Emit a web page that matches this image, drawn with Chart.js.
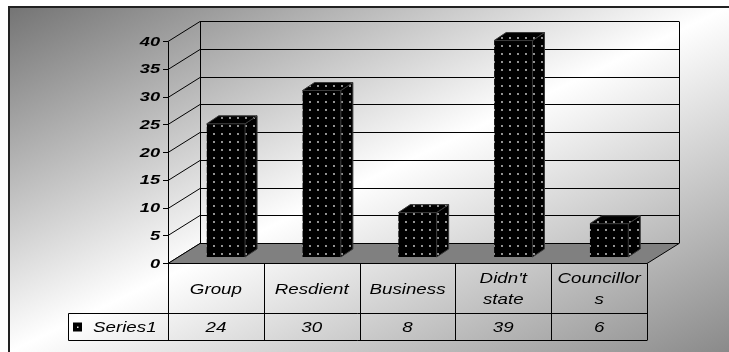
<!DOCTYPE html>
<html>
<head>
<meta charset="utf-8">
<script src="https://cdn.jsdelivr.net/npm/chart.js@4/dist/chart.umd.min.js"></script>
<style>
  html, body { margin: 0; padding: 0; background: #fff; }
</style>
</head>
<body>
<canvas id="chart" width="729" height="352"></canvas>
<script>
// data
const categories = ['Group', 'Resdient', 'Business', "Didn't state", 'Councillors'];
const seriesName = 'Series1';
const values = [24, 30, 8, 39, 6];
const yMin = 0, yMax = 40, yStep = 5;

const FONT = '"Liberation Sans", Arial, sans-serif';
const WALL_DX = 32, WALL_DY = 20;   // depth of the back wall
const BAR_OX = 10, BAR_OY = 6;      // bars sit a bit back from the front plane
const BAR_DX = 12, BAR_DY = 8;      // bar depth
const STRETCH = 1.25;               // text looks wide in the original

// black with small light dots
function dotPattern() {
  const c = document.createElement('canvas');
  c.width = 8; c.height = 8;
  const g = c.getContext('2d');
  g.fillStyle = '#000';
  g.fillRect(0, 0, 8, 8);
  g.fillStyle = '#d8d8d8';
  g.beginPath();
  g.arc(4, 4, 0.9, 0, Math.PI * 2);
  g.fill();
  return g.createPattern(c, 'repeat');
}
const pattern = dotPattern();

function wideText(ctx, txt, x, y, align, sx) {
  ctx.save();
  ctx.translate(x, y);
  ctx.scale(sx, 1);
  ctx.textAlign = align;
  ctx.fillText(txt, 0, 0);
  ctx.restore();
}

function wrapLines(ctx, txt, maxW, sx) {
  const w = s => ctx.measureText(s).width * sx;
  const lines = [];
  let cur = '';
  txt.split(' ').forEach(word => {
    const test = cur ? cur + ' ' + word : word;
    if (w(test) <= maxW) { cur = test; return; }
    if (cur) lines.push(cur);
    cur = '';
    // break long words by character
    for (const ch of word) {
      if (w(cur + ch) > maxW && cur) { lines.push(cur); cur = ch; }
      else cur += ch;
    }
  });
  if (cur) lines.push(cur);
  return lines;
}

const threeD = {
  id: 'threeD',
  beforeDraw(chart) {
    const ctx = chart.ctx;
    ctx.save();
    ctx.fillStyle = '#fff';
    ctx.fillRect(0, 0, chart.width, chart.height);
    const x0 = 9, y0 = 7;
    const grad = ctx.createLinearGradient(x0, y0, x0 + 269, y0 + 561);
    grad.addColorStop(0, '#747474');
    grad.addColorStop(0.5, '#ffffff');
    grad.addColorStop(1, '#8a8a8a');
    ctx.fillStyle = grad;
    ctx.fillRect(x0, y0, chart.width, chart.height);
    ctx.strokeStyle = '#222';
    ctx.lineWidth = 2;
    ctx.strokeRect(x0, y0, chart.width + 10, chart.height + 10);
    ctx.restore();
  },
  beforeDatasetsDraw(chart) {
    const ctx = chart.ctx;
    const y = chart.scales.y;
    const a = chart.chartArea;
    ctx.save();
    ctx.strokeStyle = '#000';
    ctx.lineWidth = 1;
    // grid on back wall, side lines, tick marks
    y.ticks.forEach(t => {
      const py = Math.round(y.getPixelForValue(t.value)) + 0.5;
      ctx.beginPath();
      ctx.moveTo(a.left - 5, py);
      ctx.lineTo(a.left, py);
      ctx.lineTo(a.left + WALL_DX, py - WALL_DY);
      ctx.lineTo(a.right + WALL_DX, py - WALL_DY);
      ctx.stroke();
    });
    const top = Math.round(y.getPixelForValue(yMax)) + 0.5;
    const bot = Math.round(y.getPixelForValue(yMin)) + 0.5;
    ctx.beginPath();
    ctx.moveTo(a.left + 0.5, top);
    ctx.lineTo(a.left + 0.5, bot);
    ctx.moveTo(a.left + WALL_DX + 0.5, top - WALL_DY);
    ctx.lineTo(a.left + WALL_DX + 0.5, bot - WALL_DY);
    ctx.moveTo(a.right + WALL_DX + 0.5, top - WALL_DY);
    ctx.lineTo(a.right + WALL_DX + 0.5, bot - WALL_DY);
    ctx.stroke();
    // floor
    ctx.beginPath();
    ctx.moveTo(a.left, bot);
    ctx.lineTo(a.right, bot);
    ctx.lineTo(a.right + WALL_DX, bot - WALL_DY);
    ctx.lineTo(a.left + WALL_DX, bot - WALL_DY);
    ctx.closePath();
    ctx.fillStyle = '#808080';
    ctx.fill();
    ctx.stroke();
    // y labels
    ctx.fillStyle = '#000';
    ctx.font = 'italic bold 13px ' + FONT;
    ctx.textBaseline = 'middle';
    y.ticks.forEach(t => {
      const py = y.getPixelForValue(t.value);
      wideText(ctx, t.label, a.left - 8, py + 1, 'right', 1.4);
    });
    ctx.restore();
    // bars drawn a little behind the front plane
    ctx.save();
    ctx.translate(BAR_OX, -BAR_OY);
  },
  afterDatasetsDraw(chart) {
    const ctx = chart.ctx;
    const meta = chart.getDatasetMeta(0);
    meta.data.forEach(bar => {
      const l = bar.x - bar.width / 2, r = bar.x + bar.width / 2;
      ctx.fillStyle = pattern;
      ctx.strokeStyle = '#3a3a3a';
      ctx.lineWidth = 1;
      // side
      ctx.beginPath();
      ctx.moveTo(r, bar.y);
      ctx.lineTo(r + BAR_DX, bar.y - BAR_DY);
      ctx.lineTo(r + BAR_DX, bar.base - BAR_DY);
      ctx.lineTo(r, bar.base);
      ctx.closePath();
      ctx.fill();
      ctx.stroke();
      // top
      ctx.beginPath();
      ctx.moveTo(l, bar.y);
      ctx.lineTo(l + BAR_DX, bar.y - BAR_DY);
      ctx.lineTo(r + BAR_DX, bar.y - BAR_DY);
      ctx.lineTo(r, bar.y);
      ctx.closePath();
      ctx.fill();
      ctx.stroke();
    });
    ctx.restore();
  },
  afterDraw(chart) {
    const ctx = chart.ctx;
    const a = chart.chartArea;
    const xs = chart.scales.x;
    const y0 = Math.round(a.bottom) + 0.5;
    const y1 = y0 + 50, y2 = y0 + 77;
    const keyL = 68.5;
    const step = (a.right - a.left) / categories.length;
    ctx.save();
    ctx.strokeStyle = '#000';
    ctx.lineWidth = 1;
    ctx.beginPath();
    ctx.moveTo(keyL, y1); ctx.lineTo(a.right, y1);
    ctx.moveTo(keyL, y2); ctx.lineTo(a.right, y2);
    ctx.moveTo(keyL, y1); ctx.lineTo(keyL, y2);
    for (let i = 0; i <= categories.length; i++) {
      const x = Math.round(a.left + i * step) + 0.5;
      ctx.moveTo(x, y0); ctx.lineTo(x, y2);
    }
    ctx.stroke();

    ctx.fillStyle = '#000';
    ctx.font = 'italic 15px ' + FONT;
    ctx.textBaseline = 'middle';
    categories.forEach((c, i) => {
      const cx = xs.getPixelForValue(i);
      const lines = wrapLines(ctx, c, step - 6, STRETCH);
      const lh = 21;
      const start = (y0 + y1) / 2 - (lines.length - 1) * lh / 2;
      lines.forEach((ln, k) => wideText(ctx, ln, cx, start + k * lh + 1, 'center', STRETCH));
      wideText(ctx, String(values[i]), cx, (y1 + y2) / 2 + 1, 'center', STRETCH);
    });
    // series key
    ctx.fillStyle = pattern;
    ctx.fillStyle = '#000';
    ctx.fillRect(73, y1 + 9, 9, 9);
    ctx.fillStyle = '#ddd';
    ctx.fillRect(77, y1 + 13, 1.5, 1.5);
    ctx.fillStyle = '#000';
    wideText(ctx, seriesName, 93, (y1 + y2) / 2 + 1, 'left', STRETCH);
    ctx.restore();
  }
};

new Chart(document.getElementById('chart'), {
  type: 'bar',
  data: {
    labels: categories,
    datasets: [{
      label: seriesName,
      data: values,
      backgroundColor: pattern,
      borderWidth: 0,
      categoryPercentage: 1,
      barPercentage: 0.4
    }]
  },
  options: {
    responsive: false,
    animation: false,
    events: [],
    layout: { padding: { left: 0, top: 41, right: 82, bottom: 89 } },
    plugins: { legend: { display: false }, tooltip: { enabled: false } },
    scales: {
      x: { display: false },
      y: {
        min: yMin,
        max: yMax,
        ticks: { stepSize: yStep, color: 'rgba(0,0,0,0)' },
        grid: { display: false },
        border: { display: false },
        afterFit(s) { s.width = 168; }
      }
    }
  },
  plugins: [threeD]
});
</script>
</body>
</html>
